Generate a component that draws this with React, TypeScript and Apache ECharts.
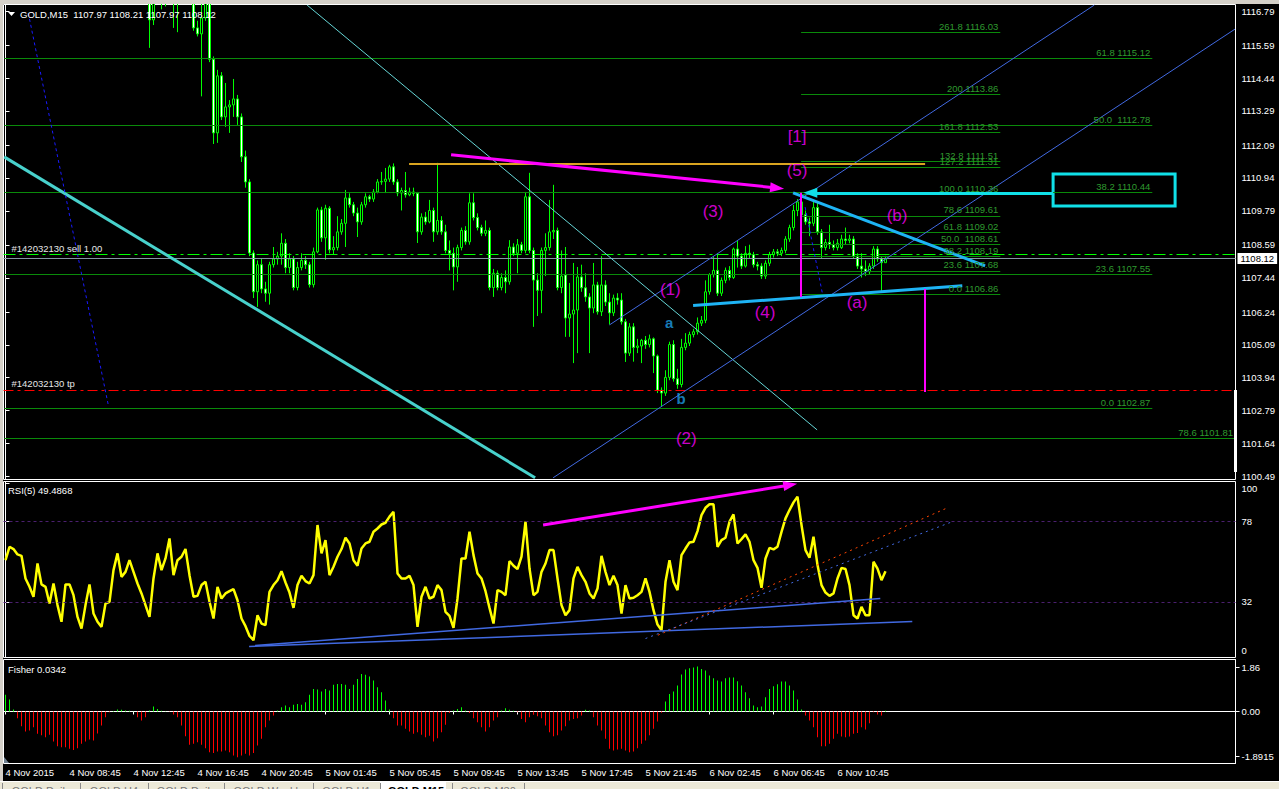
import React, { useEffect, useRef } from "react";
import * as echarts from "echarts";

const FONT = "'Liberation Sans', Arial, Helvetica, sans-serif";

// ---------- axes ----------
const timeLabels = [
  "4 Nov 2015", "4 Nov 08:45", "4 Nov 12:45", "4 Nov 16:45", "4 Nov 20:45",
  "5 Nov 01:45", "5 Nov 05:45", "5 Nov 09:45", "5 Nov 13:45", "5 Nov 17:45",
  "5 Nov 21:45", "6 Nov 02:45", "6 Nov 06:45", "6 Nov 10:45",
];
const BARS_PER_LABEL = 16;
const SLOT_COUNT = 308;

const priceTicks = [
  1116.79, 1115.59, 1114.44, 1113.29, 1112.09, 1110.94, 1109.79, 1108.59,
  1107.44, 1106.24, 1105.09, 1103.94, 1102.79, 1101.64, 1100.49,
];
const priceMin = 1100.37;
const priceMax = 1117.02;

const rsiTicks = [100, 78, 32, 0];
const rsiLevels = [78, 32];
const rsiMax = 101.1;
const fisherTicks = [1.86, 0, -1.8915];
const fisherRange = 2.185;

// ---------- GOLD M15 candles: [open, close, low, high] ----------
const ohlc: number[][] = [
  [1119.2, 1119.55, 1119.05, 1119.7], [1119.55, 1119.8, 1119.4, 1119.95], [1119.8, 1119.7, 1119.55, 1119.9],
  [1119.7, 1119.65, 1119.5, 1119.85], [1119.65, 1119.6, 1119.45, 1119.8], [1119.6, 1119.25, 1119.15, 1119.7],
  [1119.25, 1119.1, 1118.95, 1119.35], [1119.1, 1118.85, 1118.75, 1119.2], [1118.85, 1119.35, 1118.8, 1119.45],
  [1119.35, 1119.05, 1118.95, 1119.4], [1119.05, 1118.95, 1118.85, 1119.15], [1118.95, 1118.65, 1118.55, 1119.05],
  [1118.65, 1118.95, 1118.6, 1119.1], [1118.95, 1118.55, 1118.45, 1119.0], [1118.55, 1118.2, 1118.1, 1118.6],
  [1118.2, 1118.6, 1118.15, 1118.7], [1118.6, 1118.55, 1118.4, 1118.75], [1118.55, 1118.35, 1118.25, 1118.65],
  [1118.35, 1118.0, 1117.9, 1118.4], [1118.0, 1117.75, 1117.65, 1118.05], [1117.75, 1117.95, 1117.7, 1118.05],
  [1117.95, 1118.2, 1117.9, 1118.3], [1118.2, 1117.85, 1117.8, 1118.25], [1117.85, 1117.65, 1117.55, 1117.95],
  [1117.65, 1117.5, 1117.4, 1117.7], [1117.5, 1117.85, 1117.45, 1117.95], [1117.85, 1117.9, 1117.75, 1118.0],
  [1117.9, 1118.35, 1117.85, 1118.45], [1118.35, 1118.6, 1118.3, 1118.7], [1118.6, 1118.35, 1118.25, 1118.65],
  [1118.35, 1118.45, 1118.3, 1118.55], [1118.45, 1118.65, 1118.4, 1118.75], [1118.65, 1118.45, 1118.35, 1118.7],
  [1118.45, 1118.25, 1118.15, 1118.5], [1118.25, 1118.05, 1117.95, 1118.3], [1118.05, 1117.75, 1117.6, 1118.1],
  [1117.75, 1116.48, 1115.5, 1117.85], [1116.48, 1117.35, 1116.3, 1117.55], [1117.35, 1117.7, 1117.25, 1117.85],
  [1117.7, 1117.15, 1116.85, 1117.8], [1117.15, 1117.3, 1116.95, 1117.45], [1117.3, 1117.55, 1117.1, 1117.7],
  [1117.55, 1117.2, 1116.2, 1117.6], [1117.2, 1117.4, 1116.05, 1117.55], [1117.4, 1117.55, 1117.25, 1117.7],
  [1117.55, 1117.8, 1117.45, 1117.95], [1117.8, 1117.45, 1117.3, 1117.9], [1117.45, 1116.2, 1116.1, 1117.55],
  [1116.2, 1115.99, 1115.9, 1116.45], [1115.99, 1116.55, 1113.8, 1117.3], [1116.55, 1117.35, 1116.45, 1117.6],
  [1117.35, 1115.1, 1115.0, 1117.5], [1115.1, 1112.52, 1112.13, 1115.2], [1112.52, 1114.52, 1112.17, 1114.73],
  [1114.52, 1113.08, 1112.97, 1114.65], [1113.08, 1113.43, 1112.73, 1114.27], [1113.43, 1113.5, 1112.52, 1113.67],
  [1113.5, 1113.71, 1113.08, 1114.41], [1113.71, 1113.08, 1112.8, 1113.85], [1113.08, 1111.68, 1111.5, 1113.2],
  [1111.68, 1110.8, 1110.6, 1111.9], [1110.8, 1108.31, 1108.2, 1110.9], [1108.31, 1106.95, 1106.73, 1108.4],
  [1106.95, 1107.9, 1106.42, 1108.05], [1107.9, 1107.05, 1106.9, 1108.1], [1107.05, 1106.9, 1106.6, 1107.3],
  [1106.9, 1107.9, 1106.5, 1108.0], [1107.9, 1108.1, 1107.8, 1108.52], [1108.1, 1108.2, 1107.9, 1108.35],
  [1108.2, 1108.65, 1107.9, 1109.0], [1108.65, 1107.8, 1107.6, 1108.8], [1107.8, 1108.1, 1107.6, 1108.3],
  [1108.1, 1107.1, 1107.0, 1108.2], [1107.1, 1107.8, 1107.0, 1108.0], [1107.8, 1108.05, 1107.7, 1108.3],
  [1108.05, 1107.9, 1107.75, 1108.2], [1107.9, 1107.2, 1107.1, 1108.0], [1107.2, 1108.35, 1107.1, 1108.5],
  [1108.35, 1109.82, 1108.3, 1109.9], [1109.82, 1108.84, 1108.7, 1109.93], [1108.84, 1109.88, 1108.07, 1110.0],
  [1109.88, 1108.42, 1108.3, 1109.95], [1108.42, 1108.5, 1108.25, 1108.9], [1108.5, 1109.05, 1108.4, 1109.6],
  [1109.05, 1109.35, 1108.95, 1109.5], [1109.35, 1110.24, 1108.52, 1110.52], [1110.24, 1110.0, 1109.9, 1110.4],
  [1110.0, 1109.71, 1109.6, 1110.1], [1109.71, 1109.4, 1108.87, 1109.9], [1109.4, 1110.0, 1109.3, 1110.1],
  [1110.0, 1110.28, 1109.9, 1110.4], [1110.28, 1110.2, 1110.1, 1110.35], [1110.2, 1110.45, 1110.1, 1110.55],
  [1110.45, 1110.8, 1110.4, 1110.9], [1110.8, 1110.82, 1110.7, 1111.15], [1110.82, 1110.9, 1110.41, 1111.29],
  [1110.9, 1111.33, 1110.8, 1111.4], [1111.33, 1110.8, 1110.7, 1111.45], [1110.8, 1110.41, 1110.3, 1110.9],
  [1110.41, 1110.5, 1109.8, 1110.6], [1110.5, 1110.35, 1110.25, 1111.15], [1110.35, 1110.45, 1110.3, 1110.6],
  [1110.45, 1110.4, 1110.3, 1110.6], [1110.4, 1109.05, 1108.66, 1110.45], [1109.05, 1109.57, 1108.95, 1109.7],
  [1109.57, 1109.4, 1109.3, 1109.75], [1109.4, 1109.8, 1109.35, 1110.17], [1109.8, 1109.05, 1108.7, 1109.9],
  [1109.05, 1109.45, 1108.95, 1111.47], [1109.45, 1109.05, 1108.95, 1109.6], [1109.05, 1108.4, 1108.3, 1109.3],
  [1108.4, 1108.3, 1107.7, 1108.75], [1108.3, 1107.82, 1107.0, 1108.5], [1107.82, 1108.5, 1107.3, 1108.6],
  [1108.5, 1109.1, 1108.4, 1109.2], [1109.1, 1108.7, 1108.6, 1109.25], [1108.7, 1110.07, 1108.6, 1110.4],
  [1110.07, 1109.55, 1109.45, 1110.4], [1109.55, 1109.2, 1109.1, 1109.7], [1109.2, 1109.0, 1108.9, 1109.3],
  [1109.0, 1109.1, 1108.9, 1109.45], [1109.1, 1107.1, 1107.0, 1109.2], [1107.1, 1107.6, 1106.77, 1107.75],
  [1107.6, 1107.1, 1107.0, 1107.7], [1107.1, 1107.45, 1107.0, 1107.6], [1107.45, 1107.3, 1106.9, 1107.7],
  [1107.3, 1108.52, 1107.2, 1108.76], [1108.52, 1108.3, 1108.2, 1108.65], [1108.3, 1108.6, 1107.6, 1108.8],
  [1108.6, 1108.4, 1108.3, 1108.7], [1108.4, 1110.28, 1108.3, 1110.45], [1110.28, 1108.4, 1108.3, 1111.12],
  [1108.4, 1107.36, 1105.72, 1108.5], [1107.36, 1107.0, 1106.1, 1107.6], [1107.0, 1108.4, 1106.2, 1108.5],
  [1108.4, 1108.5, 1107.5, 1109.0], [1108.5, 1109.05, 1108.4, 1110.17], [1109.05, 1109.1, 1108.8, 1110.7],
  [1109.1, 1107.1, 1107.0, 1109.2], [1107.1, 1107.5, 1106.9, 1108.4], [1107.54, 1106.03, 1105.37, 1108.52],
  [1106.03, 1106.17, 1105.37, 1107.26], [1106.17, 1106.31, 1104.45, 1107.96], [1106.31, 1107.47, 1104.8, 1107.82],
  [1107.47, 1107.09, 1106.95, 1107.9], [1107.09, 1106.77, 1106.6, 1107.6], [1106.77, 1106.38, 1104.8, 1106.9],
  [1106.38, 1107.19, 1106.2, 1107.96], [1107.19, 1106.25, 1106.15, 1107.3], [1106.25, 1107.19, 1106.1, 1108.2],
  [1107.19, 1106.59, 1106.45, 1107.35], [1106.59, 1106.21, 1105.8, 1106.9], [1106.21, 1106.73, 1106.1, 1106.85],
  [1106.73, 1106.66, 1106.5, 1106.9], [1106.66, 1105.9, 1105.8, 1106.9], [1105.9, 1104.8, 1104.49, 1106.0],
  [1104.8, 1105.72, 1104.7, 1105.85], [1105.72, 1105.0, 1104.5, 1105.85], [1105.0, 1105.05, 1104.8, 1105.3],
  [1105.05, 1105.25, 1104.45, 1105.3], [1105.25, 1105.1, 1104.95, 1105.4], [1105.1, 1105.3, 1105.0, 1105.45],
  [1105.3, 1104.7, 1104.1, 1105.35], [1104.7, 1103.5, 1103.4, 1104.75], [1103.5, 1103.4, 1102.93, 1103.6],
  [1103.4, 1103.95, 1103.3, 1104.2], [1103.95, 1105.1, 1103.85, 1105.2], [1105.1, 1103.9, 1103.8, 1105.25],
  [1103.9, 1103.7, 1103.55, 1104.25], [1103.7, 1105.0, 1103.6, 1105.3], [1105.0, 1105.15, 1104.9, 1105.5],
  [1105.15, 1105.45, 1105.05, 1105.55], [1105.45, 1105.55, 1105.35, 1105.65], [1105.55, 1105.85, 1105.45, 1106.05],
  [1105.85, 1105.95, 1105.75, 1106.1], [1105.95, 1106.95, 1105.85, 1107.35], [1106.95, 1107.55, 1106.85, 1107.6],
  [1107.55, 1107.7, 1107.45, 1108.2], [1107.7, 1106.9, 1106.8, 1108.3], [1106.9, 1107.35, 1106.8, 1107.45],
  [1107.35, 1107.7, 1107.25, 1107.8], [1107.7, 1107.45, 1107.35, 1107.85], [1107.45, 1108.45, 1107.4, 1108.5],
  [1108.45, 1108.2, 1107.8, 1108.75], [1108.2, 1107.85, 1107.75, 1108.3], [1107.85, 1108.3, 1107.8, 1108.55],
  [1108.3, 1108.25, 1108.1, 1108.6], [1108.25, 1107.9, 1107.8, 1108.35], [1107.9, 1107.85, 1107.7, 1108.0],
  [1107.85, 1107.5, 1107.4, 1107.95], [1107.5, 1107.95, 1107.4, 1108.05], [1107.95, 1108.25, 1107.85, 1108.35],
  [1108.25, 1108.35, 1108.15, 1108.45], [1108.35, 1108.3, 1108.2, 1108.45], [1108.3, 1108.4, 1108.2, 1108.5],
  [1108.4, 1108.8, 1108.3, 1108.9], [1108.8, 1109.2, 1108.7, 1109.3], [1109.2, 1109.8, 1109.1, 1110.0],
  [1109.8, 1110.1, 1109.6, 1110.2], [1110.1, 1109.65, 1109.5, 1110.36], [1109.65, 1109.4, 1109.3, 1109.8],
  [1109.4, 1109.35, 1108.9, 1109.55], [1109.35, 1109.9, 1109.25, 1110.1], [1109.9, 1109.05, 1108.95, 1110.1],
  [1109.05, 1108.5, 1108.1, 1109.15], [1108.5, 1108.68, 1108.4, 1108.8], [1108.68, 1108.6, 1108.45, 1109.3],
  [1108.6, 1108.5, 1108.4, 1108.75], [1108.5, 1108.65, 1108.4, 1108.8], [1108.5, 1108.8, 1108.45, 1108.95],
  [1108.8, 1108.75, 1108.6, 1109.2], [1108.75, 1108.8, 1108.65, 1108.95], [1108.8, 1108.2, 1108.1, 1108.9],
  [1108.2, 1107.85, 1107.75, 1108.3], [1107.85, 1107.75, 1107.45, 1108.3], [1107.75, 1107.65, 1107.5, 1108.05],
  [1107.65, 1107.85, 1107.55, 1107.95], [1107.85, 1108.45, 1107.75, 1108.55], [1108.45, 1108.1, 1108.0, 1108.55],
  [1108.1, 1107.97, 1106.97, 1108.2], [1107.97, 1108.12, 1107.97, 1108.21],
];

// ---------- RSI(5) ----------
const rsi = [
  55.9, 63.6, 62.3, 59.2, 58.4, 45.4, 40.6, 34.9, 54.0, 42.0,
  40.6, 31.0, 42.5, 30.1, 20.5, 42.0, 42.0, 35.8, 23.3, 16.6,
  30.1, 42.0, 25.3, 20.5, 17.6, 31.0, 32.0, 50.2, 59.8, 46.3,
  49.2, 55.9, 49.2, 42.5, 36.8, 30.1, 23.3, 45.4, 59.8, 50.2,
  56.9, 68.4, 47.3, 55.9, 57.9, 62.3, 47.3, 34.9, 35.4, 41.6,
  43.5, 32.0, 22.4, 40.6, 33.9, 36.8, 38.1, 39.3, 32.9, 22.4,
  18.0, 12.4, 9.9, 24.3, 19.5, 18.6, 37.7, 41.6, 44.4, 49.6,
  43.1, 37.3, 28.5, 41.6, 46.9, 43.9, 42.5, 47.3, 76.1, 59.8,
  67.4, 47.3, 52.1, 57.9, 62.3, 68.8, 65.5, 55.9, 52.7, 62.6,
  65.5, 66.5, 72.2, 74.1, 76.4, 77.4, 80.9, 83.7, 48.3, 45.4,
  45.4, 46.9, 41.6, 17.6, 34.9, 40.6, 33.9, 34.9, 41.6, 38.7,
  26.2, 23.9, 17.0, 33.9, 56.9, 56.9, 72.2, 58.8, 48.3, 45.4,
  38.1, 28.5, 19.5, 38.7, 37.7, 35.8, 55.4, 52.7, 50.8, 57.9,
  78.0, 51.1, 35.8, 37.7, 49.2, 54.0, 61.7, 61.7, 45.4, 30.1,
  24.3, 27.2, 45.4, 52.1, 47.3, 43.5, 36.8, 33.9, 39.6, 58.4,
  49.2, 41.6, 46.9, 41.6, 25.3, 41.6, 33.9, 34.3, 35.8, 37.7,
  45.4, 37.7, 27.2, 18.9, 15.7, 43.5, 55.9, 43.5, 38.7, 58.8,
  62.6, 66.1, 66.5, 72.6, 81.8, 86.0, 88.0, 88.0, 63.6, 67.4,
  68.8, 78.0, 82.2, 65.5, 68.0, 70.7, 66.5, 55.9, 51.5, 40.0,
  56.9, 63.0, 62.1, 63.6, 72.2, 79.9, 84.7, 89.1, 92.4, 76.1,
  61.7, 57.3, 69.4, 53.1, 41.6, 37.3, 35.4, 36.8, 45.4, 51.5,
  50.8, 41.6, 24.3, 22.4, 29.1, 24.3, 24.3, 55.0, 51.1, 44.4,
  49.4868,
];

// ---------- Fisher ----------
const fisher = [
  0.7, 0.5, 0.08, -0.28, -0.62, -0.84, -0.8, -0.66, -0.94, -1.0,
  -1.08, -0.98, -1.26, -1.46, -1.5, -1.5, -1.57, -1.62, -1.54, -1.36,
  -1.26, -1.18, -1.22, -0.92, -0.59, -0.24, -0.03, 0.02, 0.08, 0.07,
  0.04, 0.03, 0.01, -0.24, -0.38, -0.24, 0.04, 0.21, 0.11, 0.03,
  0.01, -0.01, -0.13, -0.24, -0.59, -1.04, -1.4, -1.36, -1.29, -1.4,
  -1.54, -1.71, -1.74, -1.68, -1.68, -1.64, -1.71, -1.85, -1.92, -1.85,
  -1.78, -1.85, -1.74, -1.43, -1.15, -0.66, -0.38, -0.17, 0.04, 0.18,
  0.25, 0.18, 0.28, 0.32, 0.28, 0.39, 0.7, 0.95, 0.92, 0.84,
  0.95, 0.88, 1.12, 1.16, 1.16, 1.12, 0.95, 1.12, 1.37, 1.58,
  1.54, 1.47, 1.3, 1.02, 0.81, 0.46, 0.08, -0.28, -0.59, -0.59,
  -0.73, -0.84, -0.94, -0.87, -0.98, -1.08, -1.02, -1.26, -1.12, -0.87,
  -0.56, -0.06, 0.04, 0.11, 0.18, 0.04, -0.06, -0.28, -0.45, -0.66,
  -0.84, -0.66, -0.38, -0.24, 0.04, 0.14, 0.07, 0.03, -0.03, -0.31,
  -0.45, -0.24, -0.14, -0.2, -0.28, -0.59, -0.87, -1.04, -1.0, -0.8,
  -0.62, -0.38, -0.31, -0.28, -0.17, 0.07, 0.04, -0.24, -0.59, -0.8,
  -1.15, -1.57, -1.64, -1.6, -1.57, -1.64, -1.71, -1.68, -1.54, -1.36,
  -1.22, -1.0, -0.73, -0.42, -0.05, 0.42, 0.74, 0.84, 1.09, 1.55,
  1.76, 1.82, 1.85, 1.89, 1.79, 1.72, 1.51, 1.4, 1.3, 1.26,
  1.4, 1.43, 1.43, 1.27, 1.09, 0.81, 0.56, 0.25, 0.18, 0.21,
  0.6, 0.95, 1.06, 1.15, 1.26, 1.26, 1.09, 0.88, 0.5, 0.08,
  -0.17, -0.38, -0.66, -1.08, -1.46, -1.46, -1.36, -1.15, -0.94, -1.05,
  -1.08, -1.05, -0.94, -0.9, -0.66, -0.76, -0.49, -0.03, -0.13, -0.17,
  0.0342,
];

// ---------- Fibonacci levels [label, price] ----------
const fibWide = [["61.8", 1115.12], ["50.0", 1112.78], ["38.2", 1110.44], ["23.6", 1107.55], ["0.0", 1102.87]];
const fibWideExt = [["78.6", 1101.81]];
const fibNear = [
  ["261.8", 1116.03], ["200", 1113.86], ["161.8", 1112.53], ["132.8", 1111.51], ["127.2", 1111.31],
  ["100.0", 1110.36], ["78.6", 1109.61], ["61.8", 1109.02], ["50.0", 1108.61], ["38.2", 1108.19],
  ["23.6", 1107.68], ["0.0", 1106.86],
];
const fibWideSpan = [-0.3, 286.7];
const fibExtSpan = [-0.3, 307.4];
const fibNearSpan = [198.9, 248.7];

// ---------- order levels ----------
const orderOpen = 1108.27;
const bidPrice = 1108.12;
const takeProfit = 1103.51;

// ---------- drawn objects: anchors as [bar index, price] ----------
const cyanTrend = [[-0.33, 1111.68], [132.4, 1100.43]];
const blueDotLeft = [[5.7, 1116.72], [25.7, 1102.98]];
const cyanThin = [[75.4, 1117.0], [202.9, 1102.11]];
const channelLow = [[136.9, 1100.43], [307.4, 1116.16]];
const channelHigh = [[151.0, 1105.79], [272.2, 1117.0]];
const waveFourLine = [[171.9, 1106.47], [239.2, 1107.16]];
const waveBLine = [[196.9, 1110.42], [244.9, 1107.86]];
const magentaArrow = [[111.4, 1111.75], [192.9, 1110.59]];
const cyanArrow = [[261.9, 1110.42], [201.2, 1110.42]];
const orangeLevel = [[100.9, 1111.45], [229.9, 1111.45]];
const magentaV1 = [[198.9, 1110.42], [198.9, 1106.77]];
const magentaV2 = [[229.7, 1107.05], [229.7, 1103.44]];
const blueDotSmall = [[199.9, 1109.92], [204.2, 1106.91]];
const cyanBox = [[261.9, 1111.08], [292.4, 1109.96]];

const waveLabels = [
  ["[1]", 197.9, 1112.38], ["(5)", 197.9, 1111.19], ["(3)", 176.9, 1109.75], ["(b)", 222.9, 1109.61],
  ["(1)", 166.2, 1107.02], ["(4)", 189.9, 1106.21], ["(a)", 212.9, 1106.56], ["(2)", 170.2, 1101.79],
];
const subWaveLabels = [["a", 165.9, 1105.89], ["b", 168.9, 1103.2]];

// RSI drawings: [bar index, rsi]
const rsiArrow = [[134.4, 76.1], [196.2, 99.1]];
const rsiSupport1 = [[60.9, 6.3], [226.7, 20.7]];
const rsiSupport2 = [[62.4, 6.9], [218.7, 33.9]];
const rsiDotRed = [[163.1, 12.8], [235.6, 86.1]];
const rsiDotBlue = [[160.0, 10.9], [236.7, 78.0]];

const tabNames = ["GOLD,Daily", "GOLD,H4", "GOLD,Daily", "GOLD,Weekly", "GOLD,H1", "GOLD,M15", "GOLD,M30"];

export default function App() {
  const ref = useRef<HTMLDivElement>(null);

  useEffect(() => {
    if (!ref.current) return;
    const chart = echarts.init(ref.current, undefined, { renderer: "svg" });

    const cats = Array.from({ length: SLOT_COUNT }, (_, i) => String(i));
    const showTick = (index: number) =>
      index % BARS_PER_LABEL === 0 && index / BARS_PER_LABEL < timeLabels.length;
    const txt = { color: "#ffffff", fontSize: 9.5, fontFamily: FONT };

    const seg = (a: number[], b: number[], color: string, width: number, type: any = "solid", arrow = false) => [
      { coord: a, symbol: "none", lineStyle: { color, width, type, opacity: 1 } },
      { coord: b, symbol: arrow ? "triangle" : "none", symbolSize: arrow ? [10, 14] : 1 },
    ];
    const FIB_LINE = "#0a8a0a";
    const FIB_TEXT = "#2f9a2f";
    const fibSeg = (lvl: string, price: number, span: number[]) => [
      {
        coord: [span[0], price],
        symbol: "none",
        lineStyle: { color: FIB_LINE, width: 1, type: "solid" },
        label: {
          show: true,
          position: "insideEndTop",
          formatter: `${lvl}${lvl === "50.0" ? "  " : " "}${price.toFixed(2)}`,
          color: FIB_TEXT,
          fontSize: 9.5,
          fontFamily: FONT,
          distance: [2, 1],
        },
      },
      { coord: [span[1], price], symbol: "none" },
    ];

    const last = ohlc[ohlc.length - 1];
    const header = `GOLD,M15  ${last[0].toFixed(2)} ${last[3].toFixed(2)} ${last[2].toFixed(2)} ${last[1].toFixed(2)}`;

    const mainMarkLines: any[] = [
      ...fibWide.map(([l, p]) => fibSeg(l as string, p as number, fibWideSpan)),
      ...fibWideExt.map(([l, p]) => fibSeg(l as string, p as number, fibExtSpan)),
      ...fibNear.map(([l, p]) => fibSeg(l as string, p as number, fibNearSpan)),
      {
        yAxis: orderOpen,
        lineStyle: { color: "#00ff00", width: 1, type: [12, 4, 3, 4] },
        label: { show: true, position: "insideStartTop", formatter: "#142032130 sell 1.00", color: "#e6e6e6", fontSize: 9.5, fontFamily: FONT, distance: [8, 1] },
      },
      {
        yAxis: takeProfit,
        lineStyle: { color: "#ff0000", width: 1, type: [10, 4, 3, 4] },
        label: { show: true, position: "insideStartTop", formatter: "#142032130 tp", color: "#e6e6e6", fontSize: 9.5, fontFamily: FONT, distance: [8, 1] },
      },
      {
        yAxis: bidPrice,
        lineStyle: { color: "#8796a5", width: 1, type: "solid" },
        label: { show: true, position: "end", formatter: bidPrice.toFixed(2), color: "#000", backgroundColor: "#fff", padding: [1, 3, 0, 3], fontSize: 9.5, fontFamily: FONT, distance: 2 },
      },
      seg(cyanTrend[0], cyanTrend[1], "#48d1cc", 3),
      seg(blueDotLeft[0], blueDotLeft[1], "#1a1aff", 1, [3, 3]),
      seg(cyanThin[0], cyanThin[1], "#66d6d6", 1),
      seg(channelLow[0], channelLow[1], "#4169e1", 1),
      seg(channelHigh[0], channelHigh[1], "#4169e1", 1),
      seg(orangeLevel[0], orangeLevel[1], "#daa520", 2),
      seg(waveFourLine[0], waveFourLine[1], "#1eb4f5", 3),
      seg(waveBLine[0], waveBLine[1], "#1eb4f5", 3),
      seg(magentaArrow[0], magentaArrow[1], "#ff00ff", 3, "solid", true),
      seg(cyanArrow[0], cyanArrow[1], "#10e0e8", 3, "solid", true),
      seg(magentaV1[0], magentaV1[1], "#ff00ff", 2),
      seg(magentaV2[0], magentaV2[1], "#ff00ff", 2),
      seg(blueDotSmall[0], blueDotSmall[1], "#1a1aff", 1, [3, 3]),
    ];

    const rsiMarkLines: any[] = [
      seg(rsiArrow[0], rsiArrow[1], "#ff00ff", 3, "solid", true),
      seg(rsiSupport1[0], rsiSupport1[1], "#4169e1", 1.5),
      seg(rsiSupport2[0], rsiSupport2[1], "#4169e1", 1.5),
      seg(rsiDotRed[0], rsiDotRed[1], "#ff4500", 1, [2, 4]),
      seg(rsiDotBlue[0], rsiDotBlue[1], "#4169e1", 1, [2, 4]),
    ];

    const tabEdges = [2, 80, 148, 224, 313, 380, 452, 524];
    const graphics: any[] = [
      { type: "rect", z: 100, shape: { x: 0, y: 0, width: 1279, height: 4 }, style: { fill: "#d4d0c8" } },
      { type: "rect", z: 100, shape: { x: 0, y: 0, width: 3, height: 781 }, style: { fill: "#d4d0c8" } },
      { type: "polygon", z: 100, shape: { points: [[8, 12], [15, 12], [11.5, 16]] }, style: { fill: "#ffffff" } },
      { type: "rect", z: 100, shape: { x: 1234, y: 390, width: 3, height: 82 }, style: { fill: "#ffffff" } },
      { type: "polygon", z: 100, shape: { points: [[4, 763], [4, 757], [9, 763]] }, style: { fill: "#6f8090" } },
      { type: "rect", z: 100, shape: { x: 0, y: 781, width: 1279, height: 8 }, style: { fill: "#ece9d8" } },
      { type: "line", z: 101, shape: { x1: 0, y1: 781.5, x2: 1279, y2: 781.5 }, style: { stroke: "#ffffff", lineWidth: 1 } },
      { type: "rect", z: 101, shape: { x: 380, y: 781, width: 66, height: 8 }, style: { fill: "#ffffff" } },
    ];
    tabEdges.forEach((x) => {
      graphics.push({ type: "line", z: 102, shape: { x1: x + 0.5, y1: 783, x2: x + 0.5, y2: 789 }, style: { stroke: "#8a8a8a", lineWidth: 1 } });
    });
    tabNames.forEach((name, k) => {
      const x0 = tabEdges[k];
      const x1 = tabEdges[k + 1];
      graphics.push({
        type: "text", z: 102,
        style: {
          x: (x0 + x1) / 2, y: 785, text: name, align: "center", verticalAlign: "top",
          fill: k === 5 ? "#000000" : "#777777", font: `${k === 5 ? "bold " : ""}11px ${FONT}`,
        },
      });
    });

    const gridBase = { left: 3.5, width: 1232, show: true, backgroundColor: "#000", borderColor: "#ffffff", borderWidth: 1 };

    const option: any = {
      backgroundColor: "#000000",
      animation: false,
      textStyle: { fontFamily: FONT },
      title: [
        { text: header, left: 20, top: 9, padding: 0, textStyle: { ...txt, fontWeight: "normal" } },
        { text: `RSI(5) ${rsi[rsi.length - 1].toFixed(4)}`, left: 8, top: 485, padding: 0, textStyle: { ...txt, fontWeight: "normal" } },
        { text: `Fisher ${fisher[fisher.length - 1].toFixed(4)}`, left: 8, top: 664, padding: 0, textStyle: { ...txt, fontWeight: "normal" } },
      ],
      grid: [
        { ...gridBase, top: 4.5, height: 475 },
        { ...gridBase, top: 481.5, height: 176 },
        { ...gridBase, top: 659.5, height: 104 },
      ],
      xAxis: [
        { type: "category", gridIndex: 0, data: cats, boundaryGap: true, show: false },
        { type: "value", gridIndex: 0, min: -0.5, max: SLOT_COUNT - 0.5, show: false },
        { type: "value", gridIndex: 1, min: -0.5, max: SLOT_COUNT - 0.5, show: false },
        {
          type: "category", gridIndex: 2, data: cats, boundaryGap: true,
          axisLine: { show: true, lineStyle: { color: "#ffffff" } },
          axisTick: { show: true, alignWithLabel: true, interval: showTick, length: 3, lineStyle: { color: "#ffffff" } },
          axisLabel: {
            interval: showTick,
            formatter: (v: string) => {
              const i = Number(v);
              return showTick(i) ? timeLabels[i / BARS_PER_LABEL] : "";
            },
            align: "left", margin: 4, ...txt,
          },
          splitLine: { show: false },
        },
      ],
      yAxis: [
        {
          type: "value", gridIndex: 0, min: priceMin, max: priceMax, position: "right",
          axisLine: { show: true, lineStyle: { color: "#ffffff" } },
          axisTick: { show: true, customValues: priceTicks, length: 4, lineStyle: { color: "#ffffff" } },
          axisLabel: { customValues: priceTicks, formatter: (v: number) => v.toFixed(2), margin: 6, ...txt },
          splitLine: { show: false },
        },
        {
          type: "value", gridIndex: 1, min: 0, max: rsiMax, position: "right",
          axisLine: { show: true, lineStyle: { color: "#ffffff" } },
          axisTick: { show: true, customValues: rsiTicks, length: 4, lineStyle: { color: "#ffffff" } },
          axisLabel: {
            customValues: rsiTicks,
            formatter: (v: number) => (v === 100 ? "{t|100}" : v === 0 ? "{b|0}" : String(v)),
            margin: 6, ...txt,
            rich: {
              t: { padding: [10, 0, 0, 0], ...txt },
              b: { padding: [0, 0, 14, 0], ...txt },
            },
          },
          splitLine: { show: false },
        },
        {
          type: "value", gridIndex: 2, min: -fisherRange, max: fisherRange, position: "right",
          axisLine: { show: true, lineStyle: { color: "#ffffff" } },
          axisTick: { show: true, customValues: fisherTicks, length: 4, lineStyle: { color: "#ffffff" } },
          axisLabel: { customValues: fisherTicks, formatter: (v: number) => (v === 0 ? "0.00" : String(v)), margin: 6, ...txt },
          splitLine: { show: false },
        },
      ],
      series: [
        {
          type: "candlestick", xAxisIndex: 0, yAxisIndex: 0, data: ohlc, barWidth: 2, clip: true, z: 2, silent: true,
          itemStyle: {
            color: "#000000", color0: "#ffffff", borderColor: "#00ff00", borderColor0: "#00ff00",
            borderColorDoji: "#00ff00", borderWidth: 1,
          },
        },
        {
          type: "line", xAxisIndex: 1, yAxisIndex: 0, data: [[0, bidPrice]], symbol: "none", silent: true, clip: false, z: 5,
          lineStyle: { width: 0, opacity: 0 },
          markLine: { silent: true, symbol: ["none", "none"], label: { show: false }, data: mainMarkLines },
          markArea: {
            silent: true,
            itemStyle: { color: "rgba(0,0,0,0)", borderColor: "#10e0e8", borderWidth: 3 },
            data: [[{ coord: cyanBox[0] }, { coord: cyanBox[1] }]],
          },
        },
        {
          type: "scatter", xAxisIndex: 1, yAxisIndex: 0, symbolSize: 1, silent: true, z: 6,
          itemStyle: { color: "rgba(0,0,0,0)" },
          label: { show: true, position: "inside", color: "#ff00ff", fontSize: 17, fontFamily: FONT },
          data: waveLabels.map(([t, x, y]) => ({ value: [x, y], label: { formatter: t } })),
        },
        {
          type: "scatter", xAxisIndex: 1, yAxisIndex: 0, symbolSize: 1, silent: true, z: 6,
          itemStyle: { color: "rgba(0,0,0,0)" },
          label: { show: true, position: "inside", color: "#1e9ee6", fontSize: 15, fontWeight: "bold", fontFamily: FONT },
          data: subWaveLabels.map(([t, x, y]) => ({ value: [x, y], label: { formatter: t } })),
        },
        {
          type: "line", xAxisIndex: 2, yAxisIndex: 1, data: rsi.map((v, i) => [i, v]), symbol: "none", silent: true, z: 3,
          lineStyle: { color: "#ffff00", width: 2.5 },
          markLine: {
            silent: true, symbol: ["none", "none"], label: { show: false },
            lineStyle: { color: "#4b1f6f", width: 1, type: [3, 3] },
            data: rsiLevels.map((v) => ({ yAxis: v })),
          },
        },
        {
          type: "line", xAxisIndex: 2, yAxisIndex: 1, data: [[0, 50]], symbol: "none", silent: true, clip: false, z: 4,
          lineStyle: { width: 0, opacity: 0 },
          markLine: { silent: true, symbol: ["none", "none"], label: { show: false }, data: rsiMarkLines },
        },
        {
          type: "bar", xAxisIndex: 3, yAxisIndex: 2, barWidth: 1, silent: true,
          data: fisher.map((v) => ({ value: v, itemStyle: { color: v >= 0 ? "#00ff00" : "#ff0000" } })),
        },
      ],
      graphic: graphics,
    };

    chart.setOption(option);
    return () => chart.dispose();
  }, []);

  return (
    <div
      ref={ref}
      style={{ position: "fixed", left: 0, top: 0, width: 1279, height: 789, background: "#000" }}
    />
  );
}
